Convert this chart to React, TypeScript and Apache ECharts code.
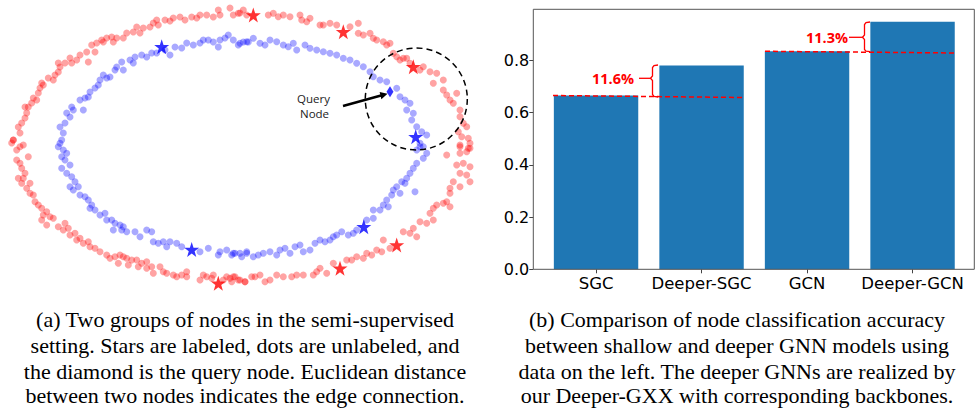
import React, { useEffect, useRef } from "react";
import * as echarts from "echarts";

// Left panel: node positions (figure units)
const redDots: number[][] = [
  [11.7,143],[13.3,140],[20,133],[18.3,127],[21.7,123],[25,118],[26.7,113],[28.3,107],[31.7,103],[25,107],[33.3,98],[36.7,100],[38.3,93],[40,88],[43.3,85],[41.7,83],[48.3,78],[53.3,80],[55,75],[58.3,72],[60,67],[58.3,63],[65,63],[70,58],[71.7,63],[76.7,60],[80,55],[86.7,52],[88.3,62],[95,52],[91.7,45],[96.7,43],[101.7,40],[103.3,42],[106.7,38],[111.7,37],[113.3,42],[116.7,38],[123.3,38],[126.7,33],[133.3,32],[136.7,27],[140,33],[143.3,28],[150,27],[153.3,23],[156.7,20],[158.3,25],[165,20],[170,21],[173.3,18],[180,17],[185,20],[191.7,17],[196.7,18],[200,15],[206.7,15],[213.3,17],[220,15],[218.3,10],[230,8],[233.3,15],[240,13],[246.7,15],
  [238.3,13.3],[243.3,10],[268.3,15],[273.3,13.3],[278.3,16.7],[283.3,15],[290,16.7],[300,15],[301.7,20],[306.7,21.7],[310,18.3],[320,25],[323.3,25],[330,23.3],[336.7,25],[350,26.7],[358.3,23.3],[358.3,33.3],[363.3,35],[370,33.3],[373.3,38.3],[376.7,40],[383.3,41.7],[386.7,45],[390,43.3],[393.3,53.3],[396.7,56.7],[400,60],[403.3,58.3],[406.7,58.3],[410,63.3],[420,70],[423.3,66.7],[430,71.7],[433.3,83.3],[436.7,73.3],[443.3,80],[443.3,90],[446.7,95],[450,100],[453.3,103.3],[456.7,93.3],[460,110],[460,116.7],[463.3,123.3],[466.7,126.7],[458.3,131.7],[461.7,136.7],[468.3,138.3],[470,143.3],[460,146.7],[468.3,148.3],
  [16.7,150],[13.3,140],[20,146.7],[23.3,145],[28.3,156.7],[16.7,160],[20,163.3],[21.7,168.3],[25,173.3],[18.3,178.3],[23.3,178.3],[21.7,183.3],[26.7,188.3],[30,183.3],[30,193.3],[33.3,195],[35,201.7],[38.3,205],[41.7,208.3],[46.7,211.7],[43.3,215],[50,216.7],[53.3,218.3],[41.7,220],[46.7,225],[58.3,226.7],[63.3,230],[65,223.3],[68.3,228.3],[70,235],[75,233.3],[76.7,240],[80,238.3],[83.3,243.3],[88.3,241.7],[90,246.7],[95,248.3],[100,251.7],[106.7,255],[115,256.7],[110,258.3],[120,255],[123.3,256.7],[118.3,263.3],[126.7,258.3],[131.7,260],[128.3,265],[136.7,260],[138.3,266.7],[141.7,263.3],[146.7,261.7],[146.7,268.3],[151.7,266.7],[153.3,273.3],[160,266.7],[163.3,271.7],[166.7,273.3],[173.3,275],[176.7,276.7],[181.7,275],[186.7,271.7],[186.7,276.7],[200,280],[203.3,275],[206.7,276.7],[211.7,278.3],[213.3,275],[223.3,280],[226.7,276.7],[230,278.3],[233.3,276.7],[238.3,280],[245,281.7],
  [446.7,155],[460,153.3],[466.7,151.7],[460,145],[470,148.3],[456.7,165],[463.3,163.3],[470,166.7],[460,173.3],[466.7,175],[470,181.7],[453.3,181.7],[450,188.3],[460,186.7],[450,193.3],[446.7,201.7],[450,206.7],[443.3,203.3],[436.7,205],[433.3,208.3],[430,213.3],[433.3,220],[426.7,223.3],[420,221.7],[413.3,228.3],[410,233.3],[416.7,236.7],[403.3,231.7],[390,248.3],[383.3,240],[381.7,251.7],[376.7,250],[371.7,255],[366.7,253.3],[363.3,258.3],[356.7,256.7],[351.7,260],[346.7,260],[333.3,263.3],[326.7,273.3],[320,268.3],[316.7,271.7],[313.3,275],[303.3,275],[296.7,275],[291.7,276.7],[283.3,276.7],[276.7,275],[270,280],[265,281.7],[260,275],[255,276.7],[251.7,276.7],[245,281.7],[240,280],[235,276.7],[231.7,281.7]
];

const blueDots: number[][] = [
  [58.3,146.7],[61.7,140],[63.3,133],[60,127],[65,123],[70,117],[66.7,113],[73.3,110],[71.7,107],[83.3,110],[80,100],[85,98],[88.3,97],[90,92],[95,88],[98.3,85],[100,80],[106.7,78],[110,77],[103.3,75],[115,70],[116.7,67],[123.3,70],[121.7,62],[130,60],[133.3,63],[135,57],[141.7,55],[146.7,57],[151.7,53],[156.7,53],[165,50],[170,55],[175,47],[181.7,48],[186.7,43],[193.3,45],[200,43],[203.3,40],[208.3,40],[213.3,42],[218.3,47],[220,40],[225,38],[228.3,35],[233.3,40],[238.3,45],[243.3,42],[248.3,42],
  [240,43.3],[246.7,41.7],[253.3,38.3],[260,43.3],[265,45],[270,40],[276.7,41.7],[283.3,45],[288.3,46.7],[293.3,43.3],[296.7,50],[305,45],[310,48.3],[316.7,50],[323.3,51.7],[330,53.3],[336.7,55],[343.3,58.3],[350,60],[356.7,63.3],[363.3,66.7],[370,71.7],[373.3,76.7],[380,80],[386.7,81.7],[396.7,88.3],[400,96.7],[405,100],[410,103.3],[406.7,110],[413.3,113.3],[411.7,120],[416.7,126.7],[421.7,131.7],[426.7,135],[420,143.3],[423.3,146.7],
  [60,143.3],[63.3,150],[66.7,153.3],[61.7,156.7],[65,160],[70,165],[61.7,168.3],[66.7,173.3],[71.7,176.7],[75,181.7],[70,186.7],[78.3,186.7],[73.3,190],[80,195],[85,196.7],[88.3,200],[91.7,205],[90,208.3],[95,210],[100,215],[105,213.3],[106.7,220],[111.7,220],[115,223.3],[113.3,230],[120,225],[123.3,226.7],[126.7,231.7],[121.7,230],[135,231.7],[140,236.7],[146.7,230],[151.7,231.7],[153.3,241.7],[158.3,243.3],[163.3,241.7],[166.7,246.7],[170,241.7],[176.7,243.3],[181.7,246.7],[200,251.7],[208.3,248.3],[218.3,255],[220,251.7],[226.7,250],[233.3,253.3],[240,253.3],[246.7,253.3],
  [416.7,150],[426.7,153.3],[420,146.7],[423.3,158.3],[416.7,163.3],[413.3,168.3],[410,173.3],[406.7,178.3],[405,183.3],[401.7,181.7],[396.7,186.7],[393.3,190],[400,193.3],[415,191.7],[391.7,195],[386.7,200],[383.3,205],[388.3,206.7],[380,210],[373.3,210],[373.3,218.3],[366.7,220],[356.7,230],[353.3,233.3],[348.3,235],[341.7,231.7],[336.7,235],[333.3,236.7],[330,240],[325,241.7],[320,240],[315,243.3],[310,250],[303.3,251.7],[300,245],[295,246.7],[290,253.3],[285,248.3],[280,250],[276.7,255],[270,251.7],[263.3,253.3],[258.3,255],[253.3,256.7],[246.7,251.7],[241.7,256.7],[235,253.3],[231.7,255]
];

const redStars: number[][] = [[253.3,15],[343.3,31.7],[413.3,66.7],[396.7,245],[340,268.3],[218.3,283.3]];
const blueStars: number[][] = [[161.7,46.7],[415.7,136.7],[363.8,226.7],[191.7,249.5]];
const queryNode: number[][] = [[390,91.7]];

// Right panel: accuracy
const categories = ["SGC", "Deeper-SGC", "GCN", "Deeper-GCN"];
const accuracy = [0.665, 0.78, 0.834, 0.947];
const gainLabels = ["11.6%", "11.3%"];

const captionA = [
  "(a) Two groups of nodes in the semi-supervised",
  "setting. Stars are labeled, dots are unlabeled, and",
  "the diamond is the query node. Euclidean distance",
  "between two nodes indicates the edge connection.",
];
const captionB = [
  "(b) Comparison of node classification accuracy",
  "between shallow and deeper GNN models using",
  "data on the left. The deeper GNNs are realized by",
  "our Deeper-GXX with corresponding backbones.",
];

const STAR = "path://M50,0 L61.8,35.1 L98.1,35.1 L68.8,56.8 L79.4,91.5 L50,70 L20.6,91.5 L31.2,56.8 L1.9,35.1 L38.2,35.1 Z";

export default function App() {
  const ref = useRef<HTMLDivElement>(null);
  useEffect(() => {
    if (!ref.current) return;
    const chart = echarts.init(ref.current, null, { renderer: "svg" });
    const red = "#ff0000";
    const captionLines: any[] = [];
    const lineY = [319, 345, 371, 395.5];
    captionA.forEach((t, i) =>
      captionLines.push({
        type: "text", x: 245, y: lineY[i],
        style: { text: t, fill: "#000", font: "22px 'Liberation Serif'", textAlign: "center", textVerticalAlign: "middle" },
      })
    );
    captionB.forEach((t, i) =>
      captionLines.push({
        type: "text", x: 737, y: lineY[i],
        style: { text: t, fill: "#000", font: "22px 'Liberation Serif'", textAlign: "center", textVerticalAlign: "middle" },
      })
    );
    const option: any = {
      animation: false,
      backgroundColor: "#fff",
      grid: [
        { left: 0, top: 0, width: 490, height: 290 },
        { left: 543.3, top: 9.3, width: 422, height: 260 },
      ],
      xAxis: [
        { gridIndex: 0, type: "value", min: 0, max: 490, show: false },
        {
          gridIndex: 1, type: "category", data: categories,
          axisLine: { show: false },
          axisTick: { show: true, alignWithLabel: true, length: 4, lineStyle: { color: "#444" } },
          axisLabel: { color: "#000", fontSize: 16.5, fontFamily: "DejaVu Sans", margin: 6, interval: 0 },
        },
      ],
      yAxis: [
        { gridIndex: 0, type: "value", min: 0, max: 290, inverse: true, show: false },
        {
          gridIndex: 1, type: "value", min: 0, max: 0.995, interval: 0.2, offset: 10,
          axisLine: { show: false },
          axisTick: { show: true, length: 4, lineStyle: { color: "#444" } },
          splitLine: { show: false },
          axisLabel: {
            color: "#000", fontSize: 16, fontFamily: "DejaVu Sans", margin: 4,
            formatter: (v: number) => v.toFixed(1), showMaxLabel: false,
          },
        },
      ],
      series: [
        {
          type: "scatter", xAxisIndex: 0, yAxisIndex: 0, data: redDots, symbol: "circle", symbolSize: 7,
          itemStyle: { color: "rgba(255,0,0,0.45)" }, z: 2,
        },
        {
          type: "scatter", xAxisIndex: 0, yAxisIndex: 0, data: blueDots, symbol: "circle", symbolSize: 7,
          itemStyle: { color: "rgba(0,0,255,0.42)" }, z: 2,
        },
        {
          type: "scatter", xAxisIndex: 0, yAxisIndex: 0, data: redStars, symbol: STAR, symbolSize: 15,
          itemStyle: { color: "#ff0000" }, z: 3,
        },
        {
          type: "scatter", xAxisIndex: 0, yAxisIndex: 0, data: blueStars, symbol: STAR, symbolSize: 15,
          itemStyle: { color: "#0000ff" }, z: 3,
        },
        {
          type: "scatter", xAxisIndex: 0, yAxisIndex: 0, data: queryNode, symbol: "diamond", symbolSize: [7, 11],
          itemStyle: { color: "#0000ff" }, z: 3,
        },
        {
          type: "bar", xAxisIndex: 1, yAxisIndex: 1, data: accuracy, barWidth: "80%",
          itemStyle: { color: "#1f77b4" },
        },
      ],
      graphic: [
        // axes frame
        { type: "rect", shape: { x: 533.3, y: 9.3, width: 441, height: 260 }, style: { fill: "none", stroke: "#555", lineWidth: 1 }, z: 10 },
        // query annotation
        { type: "circle", shape: { cx: 416.3, cy: 99, r: 51 }, style: { fill: "none", stroke: "#000", lineWidth: 1.5, lineDash: [6, 4] }, z: 20 },
        { type: "line", shape: { x1: 343, y1: 106, x2: 381, y2: 95.5 }, style: { stroke: "#000", lineWidth: 2.5 }, z: 20 },
        { type: "polygon", shape: { points: [[387.5, 93.7], [379.6, 92.1], [381.4, 99.2]] }, style: { fill: "#000" }, z: 20 },
        { type: "text", x: 313.5, y: 98.5, style: { text: "Query", fill: "#222", font: "11.5px 'Open Sans'", textAlign: "center", textVerticalAlign: "middle" }, z: 20 },
        { type: "text", x: 314.5, y: 113.5, style: { text: "Node", fill: "#222", font: "11.5px 'Open Sans'", textAlign: "center", textVerticalAlign: "middle" }, z: 20 },
        // gain annotations
        { type: "line", shape: { x1: 553, y1: 95.5, x2: 745, y2: 97.5 }, style: { stroke: red, lineWidth: 1.5, lineDash: [5, 3] }, z: 20 },
        { type: "polyline", shape: { points: [[658, 65], [654, 65.5], [652.5, 67.5], [652.5, 76], [650.5, 78.3], [652.5, 80.5], [652.5, 94.5], [654, 96.5], [658, 97]] }, style: { stroke: red, lineWidth: 1.3, fill: "none" }, z: 20 },
        { type: "line", shape: { x1: 639, y1: 78.3, x2: 650.5, y2: 78.3 }, style: { stroke: red, lineWidth: 1.3 }, z: 20 },
        { type: "text", x: 613, y: 78.5, style: { text: gainLabels[0], fill: red, font: "bold 14.5px 'Open Sans'", textAlign: "center", textVerticalAlign: "middle" }, z: 20 },
        { type: "line", shape: { x1: 765, y1: 51.3, x2: 957, y2: 53 }, style: { stroke: red, lineWidth: 1.5, lineDash: [5, 3] }, z: 20 },
        { type: "polyline", shape: { points: [[870, 22], [866, 22.5], [864.5, 24.5], [864.5, 35], [862.5, 37.3], [864.5, 39.5], [864.5, 49.5], [866, 51.2], [870, 51.7]] }, style: { stroke: red, lineWidth: 1.3, fill: "none" }, z: 20 },
        { type: "line", shape: { x1: 849, y1: 37.3, x2: 862.5, y2: 37.3 }, style: { stroke: red, lineWidth: 1.3 }, z: 20 },
        { type: "text", x: 827, y: 37.5, style: { text: gainLabels[1], fill: red, font: "bold 14.5px 'Open Sans'", textAlign: "center", textVerticalAlign: "middle" }, z: 20 },
        ...captionLines,
      ],
    };
    chart.setOption(option);
    return () => chart.dispose();
  }, []);
  return (
    <div
      ref={ref}
      style={{ position: "fixed", left: 0, top: 0, width: 977, height: 408, background: "#fff" }}
    />
  );
}
